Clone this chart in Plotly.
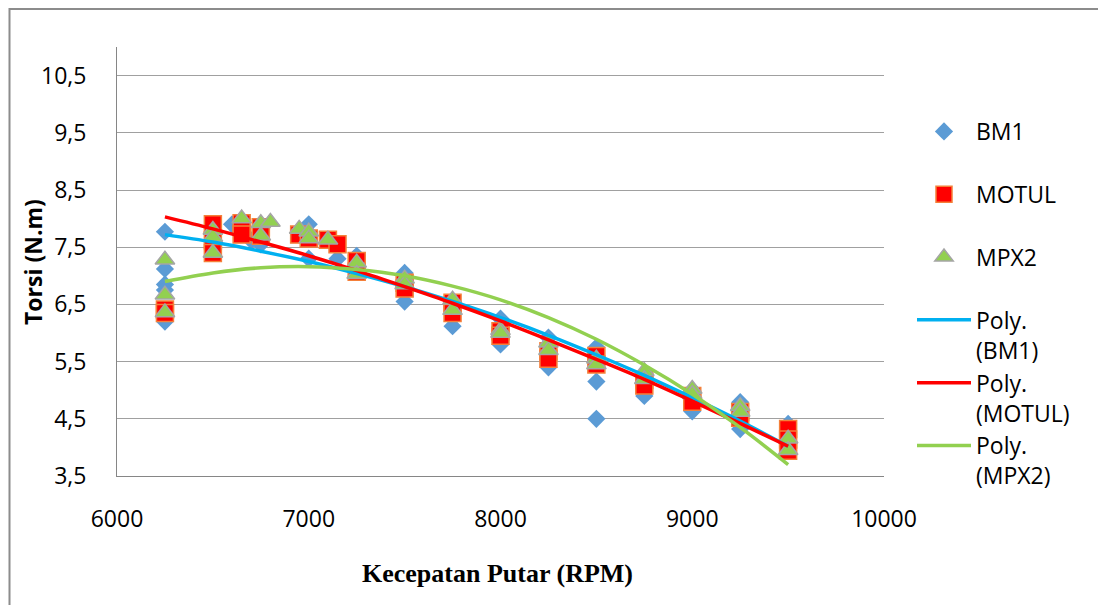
import plotly.graph_objects as go

# ---------------- data ----------------
bm1_rpm = [6250, 6250, 6250, 6250, 6250, 6500, 6600, 6700, 6750, 7000, 7000, 7150,
           7250, 7250, 7500, 7500, 7750, 7750, 8000, 8000, 8250, 8250, 8500, 8500,
           8500, 8750, 8750, 9000, 9000, 9250, 9250, 9500, 9500]
bm1_torque = [7.77, 7.12, 6.85, 6.75, 6.20, 7.60, 7.90, 7.62, 7.55, 7.90, 7.30, 7.30,
              7.35, 7.07, 7.05, 6.55, 6.55, 6.12, 6.25, 5.80, 5.92, 5.40, 5.75, 5.15,
              4.50, 5.22, 4.90, 5.00, 4.63, 4.79, 4.32, 4.41, 3.95]

motul_rpm = [6250, 6250, 6500, 6500, 6500, 6650, 6650, 6750, 6750, 6950, 7000, 7100,
             7150, 7250, 7250, 7500, 7500, 7750, 7750, 8000, 8000, 8250, 8250, 8500,
             8500, 8750, 8750, 9000, 9000, 9250, 9250, 9500, 9500, 9500]
motul_torque = [6.41, 6.35, 7.90, 7.62, 7.40, 7.92, 7.72, 7.85, 7.70, 7.72, 7.65, 7.63,
                7.55, 7.26, 7.07, 6.88, 6.78, 6.53, 6.35, 6.03, 5.95, 5.68, 5.55, 5.60,
                5.45, 5.18, 5.08, 4.90, 4.80, 4.62, 4.52, 4.32, 4.14, 3.94]

mpx2_rpm = [6250, 6250, 6250, 6500, 6500, 6500, 6650, 6750, 6750, 6800, 6950, 7000,
            7000, 7100, 7250, 7250, 7500, 7500, 7750, 7750, 8000, 8000, 8250, 8250,
            8500, 8500, 8750, 8750, 9000, 9000, 9250, 9250, 9500, 9500]
mpx2_torque = [7.28, 6.67, 6.36, 7.80, 7.68, 7.40, 8.00, 7.92, 7.70, 7.94, 7.82, 7.77,
               7.65, 7.63, 7.23, 7.03, 6.95, 6.85, 6.58, 6.40, 6.05, 6.00, 5.83, 5.70,
               5.55, 5.45, 5.33, 5.19, 5.02, 4.93, 4.72, 4.62, 4.15, 3.95]

# polynomial trend lines as they appear in the picture
trend_rpm = [6250, 6500, 6750, 7000, 7250, 7500, 7750, 8000, 8250, 8500, 8750, 9000, 9250, 9500]
trend_bm1 = [7.72, 7.59, 7.43, 7.25, 7.04, 6.81, 6.55, 6.27, 5.96, 5.62, 5.26, 4.87, 4.46, 4.02]
trend_motul = [8.03, 7.82, 7.59, 7.35, 7.09, 6.81, 6.52, 6.21, 5.88, 5.54, 5.19, 4.81, 4.42, 4.02]
trend_mpx2 = [6.90, 7.05, 7.14, 7.16, 7.11, 7.00, 6.82, 6.58, 6.27, 5.89, 5.44, 4.93, 4.35, 3.70]

x_ticks = [6000, 7000, 8000, 9000, 10000]
y_ticks = [3.5, 4.5, 5.5, 6.5, 7.5, 8.5, 9.5, 10.5]

# ---------------- figure ----------------
W, H = 1098, 605
L, R, T, B = 117, 214, 47, 129
pw, ph = W - L - R, H - T - B


def px(xp):
    return (xp - L) / pw


def py(yp):
    return (H - B - yp) / ph


fig = go.Figure()

fig.add_trace(go.Scatter(
    x=bm1_rpm, y=bm1_torque, mode="markers", name="BM1<br> ",
    marker=dict(symbol="diamond", size=14, color="#5B9BD5", line=dict(width=0)),
))
fig.add_trace(go.Scatter(
    x=motul_rpm, y=motul_torque, mode="markers", name="MOTUL<br> ",
    marker=dict(symbol="square", size=17, color="#FF0000",
                line=dict(width=1.5, color="#F4803A")),
))
fig.add_trace(go.Scatter(
    x=mpx2_rpm, y=mpx2_torque, mode="markers", name="MPX2<br> ",
    marker=dict(symbol="triangle-up", size=17, color="#92D050",
                line=dict(width=1.5, color="#A5A5A5")),
))
fig.add_trace(go.Scatter(
    x=trend_rpm, y=trend_bm1, mode="lines", name="Poly.<br>(BM1)",
    line=dict(color="#00B0F0", width=3.5, shape="spline"),
))
fig.add_trace(go.Scatter(
    x=trend_rpm, y=trend_motul, mode="lines", name="Poly.<br>(MOTUL)",
    line=dict(color="#FF0000", width=3.5, shape="spline"),
))
fig.add_trace(go.Scatter(
    x=trend_rpm, y=trend_mpx2, mode="lines", name="Poly.<br>(MPX2)",
    line=dict(color="#92D050", width=3.5, shape="spline"),
))

tick_font = dict(family="Open Sans", size=23, color="#000000")

fig.update_layout(
    width=W, height=H,
    margin=dict(l=L, r=R, t=T, b=B, autoexpand=False),
    paper_bgcolor="#FFFFFF", plot_bgcolor="#FFFFFF",
    separators=",.",
    showlegend=True,
    legend=dict(
        x=px(912), y=py(110), xanchor="left", yanchor="top",
        xref="paper", yref="paper",
        font=dict(family="Open Sans", size=23, color="#000000"),
        valign="top", itemwidth=54, tracegroupgap=0,
        bgcolor="rgba(0,0,0,0)", borderwidth=0,
    ),
    xaxis=dict(
        range=[6000, 10000], tickmode="array", tickvals=x_ticks,
        ticktext=[str(v) for v in x_ticks],
        showgrid=False, zeroline=False, showline=True,
        linecolor="#868686", linewidth=1, ticks="",
        tickfont=tick_font, ticklabelstandoff=22,
    ),
    yaxis=dict(
        range=[3.5, 11], tickmode="array", tickvals=y_ticks,
        ticktext=[f"{v:.1f}".replace(".", ",") for v in y_ticks],
        showgrid=True, gridcolor="#A0A0A0", gridwidth=1,
        zeroline=False, showline=True, linecolor="#868686", linewidth=1,
        ticks="", tickfont=tick_font, ticklabelstandoff=25,
    ),
    annotations=[
        dict(text="<b>Kecepatan Putar (RPM)</b>", xref="paper", yref="paper",
             x=px(497), y=py(573), xanchor="center", yanchor="middle",
             showarrow=False,
             font=dict(family="Liberation Serif", size=26, color="#000000")),
        dict(text="<b>Torsi (N.m)</b>", xref="paper", yref="paper",
             x=px(33), y=py(262), xanchor="center", yanchor="middle",
             textangle=-90, showarrow=False,
             font=dict(family="Open Sans", size=23, color="#000000")),
    ],
    shapes=[
        dict(type="rect", xref="paper", yref="paper",
             x0=px(9.5), x1=px(W + 20), y0=py(H + 20), y1=py(9),
             line=dict(color="#8C8C8C", width=2), fillcolor="rgba(0,0,0,0)",
             layer="below"),
    ],
)

fig.write_html("out.html")
